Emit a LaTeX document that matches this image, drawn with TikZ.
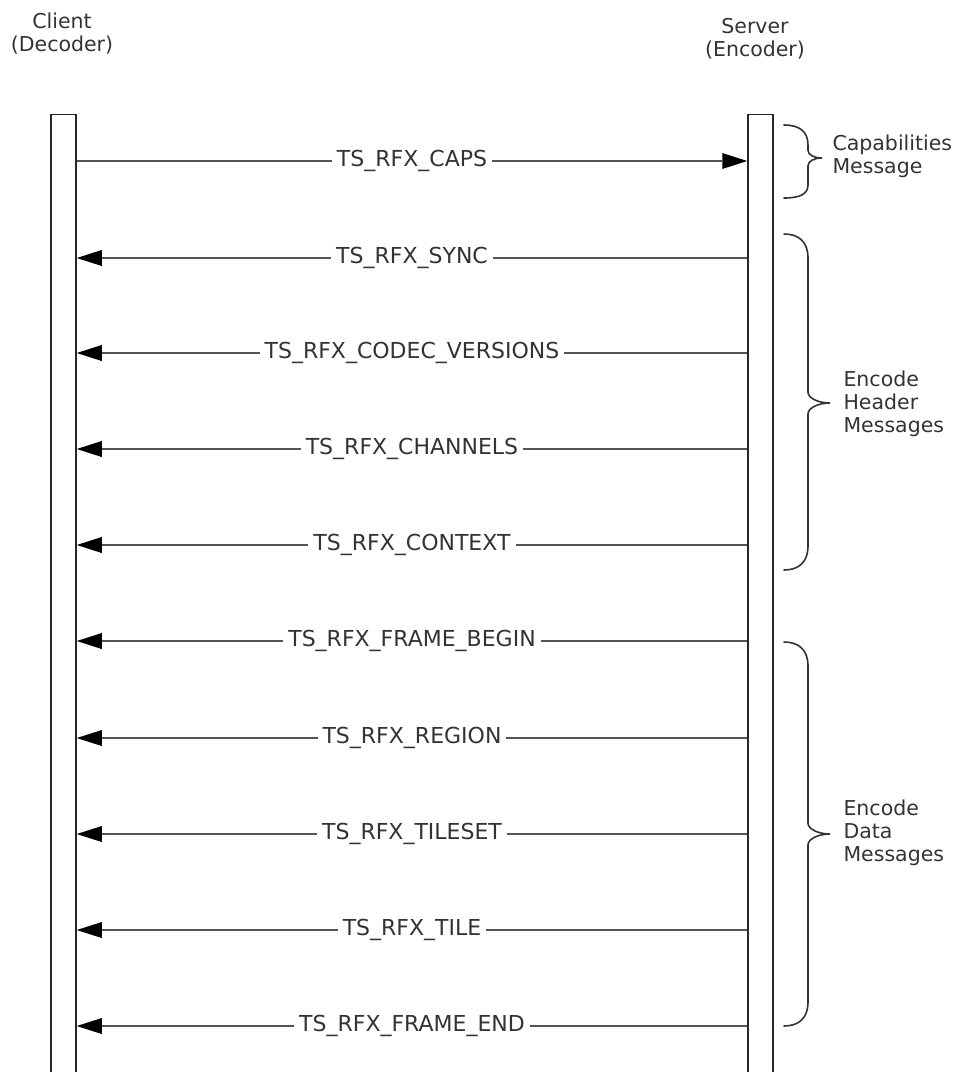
\documentclass[tikz,border=0pt]{standalone}
\usepackage{fontspec}
\setmainfont{DejaVu Sans}
\usetikzlibrary{arrows.meta}
\definecolor{txt}{HTML}{333333}
\definecolor{ln}{HTML}{555555}
\begin{document}
\begin{tikzpicture}[x=1pt,y=-1pt,
  every node/.style={font=\fontsize{20.5}{23}\selectfont, text=txt},
  lifeline/.style={draw=black!85, line width=1.5pt, fill=white, minimum width=25pt, minimum height=980pt, inner sep=0pt, anchor=north},
  msg/.style={draw=ln, line width=2.2pt, -{Triangle[length=25pt,width=16pt,fill=black,line width=0pt]}},
  lbl/.style={fill=white, inner sep=5pt, pos=0.5, font=\fontsize{22}{25}\selectfont},
  bracel/.style={draw=black!80, line width=1.6pt, line cap=round},
  side/.style={align=left, anchor=west}]
\useasboundingbox (0,0) rectangle (958,1072);
% headers
\node[align=center] (clientlbl) at (62,33.5) {Client\\(Decoder)};
\node[align=center] (serverlbl) at (755,39) {Server\\(Encoder)};
% lifelines
\node[lifeline] (C) at (63.5,113.5) {};
\node[lifeline] (S) at (760.5,113.5) {};
% messages
\draw[msg] (C.east |- 0,161) -- node[lbl]{TS\_RFX\_CAPS} (S.west |- 0,161);
\draw[msg] (S.west |- 0,258) -- node[lbl]{TS\_RFX\_SYNC} (C.east |- 0,258);
\draw[msg] (S.west |- 0,353) -- node[lbl]{TS\_RFX\_CODEC\_VERSIONS} (C.east |- 0,353);
\draw[msg] (S.west |- 0,449) -- node[lbl]{TS\_RFX\_CHANNELS} (C.east |- 0,449);
\draw[msg] (S.west |- 0,545) -- node[lbl]{TS\_RFX\_CONTEXT} (C.east |- 0,545);
\draw[msg] (S.west |- 0,641) -- node[lbl]{TS\_RFX\_FRAME\_BEGIN} (C.east |- 0,641);
\draw[msg] (S.west |- 0,738) -- node[lbl]{TS\_RFX\_REGION} (C.east |- 0,738);
\draw[msg] (S.west |- 0,834) -- node[lbl]{TS\_RFX\_TILESET} (C.east |- 0,834);
\draw[msg] (S.west |- 0,930) -- node[lbl]{TS\_RFX\_TILE} (C.east |- 0,930);
\draw[msg] (S.west |- 0,1026) -- node[lbl]{TS\_RFX\_FRAME\_END} (C.east |- 0,1026);
% braces
\draw[bracel] (784,125) .. controls (800,125) and (808,132) .. (808,145)
  -- (808,150) .. controls (808,155) and (814,158) .. (822,158)
  .. controls (814,158) and (808,161) .. (808,166)
  -- (808,185) .. controls (808,194) and (800,198) .. (784,198);
\draw[bracel] (784,234) .. controls (799,234) and (808,242) .. (808,258)
  -- (808,392) .. controls (808,398) and (818,403) .. (830,403)
  .. controls (818,403) and (808,408) .. (808,414)
  -- (808,546) .. controls (808,562) and (799,570) .. (784,570);
\draw[bracel] (784,642) .. controls (799,642) and (808,650) .. (808,666)
  -- (808,823) .. controls (808,829) and (818,834) .. (830,834)
  .. controls (818,834) and (808,839) .. (808,845)
  -- (808,1002) .. controls (808,1018) and (799,1026) .. (784,1026);
% brace labels
\node[side] (caps) at (829,156) {Capabilities\\Message};
\node[side] (hdr) at (840,404) {Encode\\Header\\Messages};
\node[side] (dat) at (840,833) {Encode\\Data\\Messages};
\end{tikzpicture}
\end{document}
